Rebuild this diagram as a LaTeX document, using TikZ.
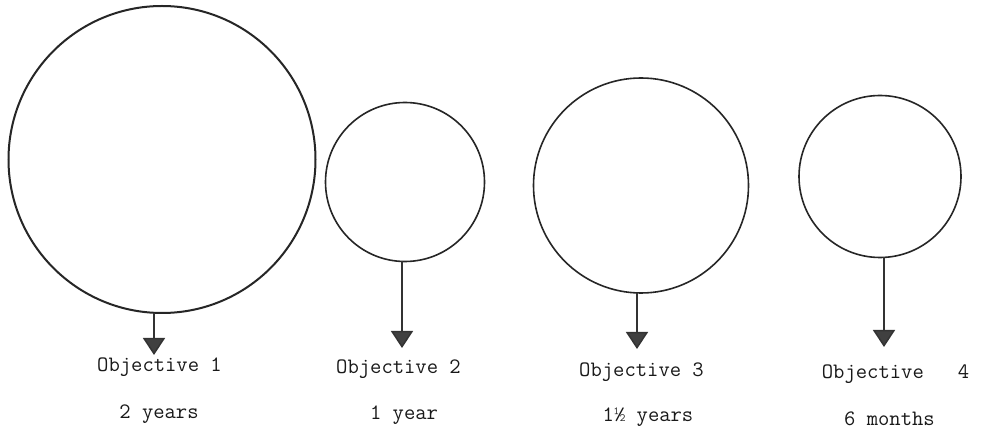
\documentclass[tikz,border=0pt]{standalone}
\usepackage{fontspec}
\usetikzlibrary{arrows.meta}
\begin{document}
\begin{tikzpicture}[x=1pt,y=-1pt,
  ring/.style={circle,draw=black!85,line width=1.6pt,inner sep=0pt,outer sep=0pt},
  conn/.style={draw=black!80,line width=1.5pt,-{Triangle[width=22pt,length=17pt,fill=black!75]}},
  lbl/.style={font=\ttfamily\fontsize{22}{26}\selectfont,text=black!90,inner sep=0pt,anchor=base}]
\useasboundingbox[fill=white] (0,0) rectangle (986,438);
% circles
\node[ring,minimum size=307pt,line width=2pt] (c1) at (162,159.5) {};
\node[ring,minimum size=159pt] (c2) at (405,182) {};
\node[ring,minimum size=215pt] (c3) at (641,185.5) {};
\node[ring,minimum size=162pt] (c4) at (880,176.5) {};
% arrow tips
\coordinate (t1) at (154,355);
\coordinate (t2) at (402,348);
\coordinate (t3) at (637,349);
\coordinate (t4) at (884,347);
\draw[conn] (c1.south -| t1) -- (t1);
\draw[conn] (c2.south -| t2) -- (t2);
\draw[conn] (c3.south -| t3) -- (t3);
\draw[conn] (c4.south -| t4) -- (t4);
% labels
\node[lbl] (o1) at (159.5,372) {Objective 1};
\node[lbl] (o2) at (398.5,374) {Objective 2};
\node[lbl] (o3) at (641.5,377) {Objective 3};
\node[lbl] (o4) at (895.5,379) {Objective\ \ \ 4};
\node[lbl] (d1) at (159,419) {2 years};
\node[lbl] (d2) at (404,420) {1 year};
\node[lbl] (d3) at (648,421) {1½ years};
\node[lbl] (d4) at (889.5,425) {6 months};
\end{tikzpicture}
\end{document}
